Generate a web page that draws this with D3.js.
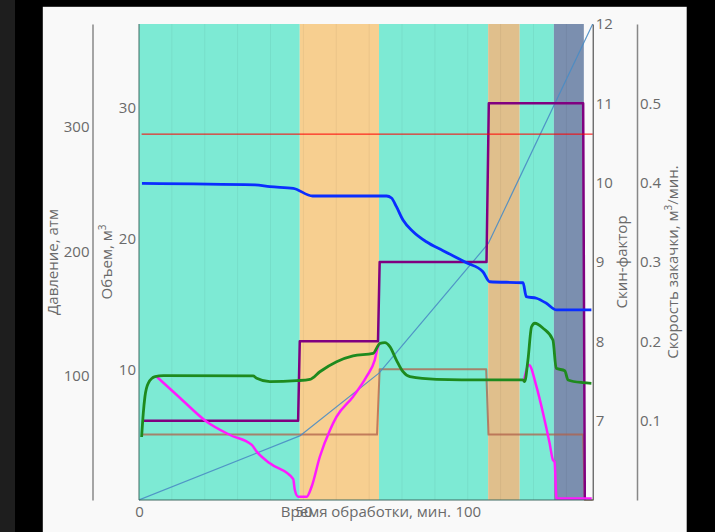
<!DOCTYPE html>
<html>
<head>
<meta charset="utf-8">
<script src="https://cdn.jsdelivr.net/npm/d3@7"></script>
<style>
  html, body { margin: 0; padding: 0; background: #000; }
  svg { display: block; }
  .tick text, .lbl { font-family: "Open Sans", sans-serif; font-size: 15px; fill: #6a6a6a; }
</style>
</head>
<body>
<div id="chart"></div>
<script>
// stages (minutes)
const stageStart = [0, 48.9, 73, 106.2, 115.8, 126.2]
const stageEnd   = [48.9, 73, 106.2, 115.8, 126.2, 135.3]
const stageKind  = ["acid", "divert", "acid", "divert2", "acid", "flush"]

// pressure, atm
const pressT = [0.9, 35.3, 39.8, 46.9, 52.8, 75.3, 76.8, 78.3, 80.3, 83.4, 87.4, 92.5, 99.6, 104.6, 106.7, 116.8, 117.8, 120.9, 123.9, 127.0, 137.6]
const pressV = [254.8, 253.5, 252.1, 250.8, 244.6, 244.6, 243.0, 236.0, 225.3, 215.9, 207.8, 200.6, 190.9, 183.7, 175.6, 174.8, 163.6, 162.3, 158.3, 152.9, 152.9]

// second pressure curve, atm
const press2T = [0.8, 1.3, 1.8, 2.8, 4.9, 7.4, 34.7, 35.8, 39.8, 47.9, 52.0, 55.0, 60.1, 65.1, 71.2, 73.3, 74.8, 76.3, 78.3, 80.3, 82.4, 90.5, 105.7, 116.8, 117.3, 118.3, 119.4, 120.4, 122.9, 125.9, 126.9, 129.5, 130.5, 135.0, 137.6]
const press2V = [50.7, 69.8, 83.1, 93.9, 99.2, 100.0, 99.8, 97.9, 95.2, 96.0, 97.1, 103.2, 111.3, 115.9, 118.0, 126.1, 126.6, 123.4, 112.6, 103.2, 99.2, 97.1, 96.6, 96.6, 95.2, 112.6, 139.4, 142.2, 138.2, 128.7, 106.0, 104.0, 96.6, 94.4, 93.9]

// third pressure curve, atm (null = gap)
const press3T = [5.4, 12.5, 20.6, 27.7, 34.3, 35.8, 39.8, 46.9, 47.4, 48.4, 51.0, 52.5, 55.0, 58.1, 60.1, 65.1, 69.2, 71.7, 72.7, 73.3, 95, 117.0, 118.6, 120.9, 122.9, 124.9, 125.9, 126.4, 127.0, 137.7]
const press3V = [99.2, 82.1, 63.0, 52.3, 44.3, 38.9, 29.5, 16.9, 8.0, 2.7, 2.7, 10.7, 34.8, 56.3, 67.0, 83.1, 99.2, 112.6, 123.4, 126.1, null, 95.2, 108.6, 91.2, 69.8, 45.6, 32.2, 30.8, 1.2, 1.2]

const pressLimit = 294.4

// volume, m3
const volT = [0, 48.9, 73, 106.2, 138]
const volV = [0, 4.9, 9.7, 19.6, 36.4]
const planT = [1.1, 72.4, 73.2, 105.6, 106.3, 135.1, 135.6, 138]
const planV = [5, 5, 10, 10, 5, 5, 0, 0]

// injection rate, m3/min
const rateT = [1.5, 48.4, 48.9, 72.7, 73.2, 105.7, 106.4, 135.1, 135.6]
const rateV = [0.1, 0.1, 0.2, 0.2, 0.3, 0.3, 0.5, 0.5, 0]

const xTicks = [0, 50, 100]
const pressTicks = [100, 200, 300]
const volTicks = [10, 20, 30]
const skinTicks = [7, 8, 9, 10, 11, 12]
const rateTicks = [0.1, 0.2, 0.3, 0.4, 0.5]

const stageColor = { acid: "#7dead4", divert: "#f7cf90", divert2: "#e0bf8c", flush: "#7b8faf" }

const W = 715, H = 532
const pL = 139, pR = 592.7, pT = 24, pB = 500

const svg = d3.select("#chart").append("svg")
    .attr("width", W).attr("height", H)

svg.append("rect").attr("width", 15).attr("height", H).attr("fill", "#1e1e1e")
svg.append("rect").attr("x", 42.8).attr("y", 6.8).attr("width", 686.7 - 42.8).attr("height", H).attr("fill", "#f9f9f9")

const x = d3.scaleLinear([0, 138], [pL, pR])
const yP = d3.scaleLinear([0, 383], [pB, pT])
const yV = d3.scaleLinear([0, 36.4], [pB, pT])
const yS = d3.scaleLinear([6, 12], [pB, pT])
const yR = d3.scaleLinear([0, 0.6], [pB, pT])

svg.append("clipPath").attr("id", "plot")
  .append("rect").attr("x", pL).attr("y", pT).attr("width", pR - pL + 1).attr("height", pB - pT + 2)

const g = svg.append("g").attr("clip-path", "url(#plot)")

g.selectAll("rect.stage")
  .data(d3.range(stageStart.length))
  .join("rect")
    .attr("class", "stage")
    .attr("x", i => x(stageStart[i]))
    .attr("width", i => x(stageEnd[i]) - x(stageStart[i]))
    .attr("y", pT).attr("height", pB - pT)
    .attr("fill", i => stageColor[stageKind[i]])

// faint vertical grid
g.selectAll("line.grid")
  .data(d3.range(10, 138, 10))
  .join("line")
    .attr("x1", d => x(d)).attr("x2", d => x(d))
    .attr("y1", pT).attr("y2", pB)
    .attr("stroke", "#000").attr("stroke-opacity", 0.05)

function drawLine(T, V, yScale, color, w, opacity = 1, curve = d3.curveLinear) {
  const line = d3.line()
    .defined(i => V[i] !== null)
    .x(i => x(T[i]))
    .y(i => yScale(V[i]))
    .curve(curve)
  g.append("path")
    .attr("d", line(d3.range(T.length)))
    .attr("fill", "none")
    .attr("stroke", color)
    .attr("stroke-width", w)
    .attr("stroke-opacity", opacity)
    .attr("stroke-linejoin", "round")
}

drawLine(planT, planV, yV, "#b0604a", 2, 0.75)
drawLine(volT, volV, yV, "#4a8cc4", 1.2, 0.9)
drawLine(rateT, rateV, yR, "#800080", 2.5)
drawLine(press3T, press3V, yP, "#ff1aff", 2.5, 1, d3.curveMonotoneX)
drawLine(press2T, press2V, yP, "#1e8a1e", 2.8, 1, d3.curveMonotoneX)
drawLine(pressT, pressV, yP, "#0a2eff", 2.8, 1, d3.curveMonotoneX)
drawLine([0.8, 138], [pressLimit, pressLimit], yP, "#ff0000", 1)

// plot frame (left + bottom)
svg.append("path")
  .attr("d", `M${pL},${pT}V${pB}H${pR}`)
  .attr("fill", "none").attr("stroke", "#3f6a62").attr("stroke-width", 1)

function styleAxis(sel, domainColor, domainWidth) {
  sel.selectAll(".tick line").remove()
  if (domainColor) sel.select(".domain").attr("stroke", domainColor).attr("stroke-width", domainWidth)
  else sel.select(".domain").remove()
  sel.selectAll(".tick text").attr("fill", "#6a6a6a")
  sel.attr("font-family", null).attr("font-size", null)
}

svg.append("g").attr("transform", `translate(0,${pB})`)
  .call(d3.axisBottom(x).tickValues(xTicks).tickSize(0).tickPadding(6).tickFormat(d3.format("d")))
  .call(s => styleAxis(s, null))

svg.append("g").attr("transform", "translate(92.5,0)")
  .call(d3.axisLeft(yP).tickValues(pressTicks).tickSize(0).tickSizeOuter(0).tickPadding(3))
  .call(s => styleAxis(s, "#888", 1.5))

svg.append("g").attr("transform", `translate(${pL},0)`)
  .call(d3.axisLeft(yV).tickValues(volTicks).tickSize(0).tickPadding(3))
  .call(s => styleAxis(s, null))

svg.append("g").attr("transform", `translate(${pR},0)`)
  .call(d3.axisRight(yS).tickValues(skinTicks).tickSize(0).tickSizeOuter(0).tickPadding(3).tickFormat(d3.format("d")))
  .call(s => styleAxis(s, "#333", 1))

svg.append("g").attr("transform", "translate(637,0)")
  .call(d3.axisRight(yR).tickValues(rateTicks).tickSize(0).tickSizeOuter(0).tickPadding(3).tickFormat(d3.format(".1f")))
  .call(s => styleAxis(s, "#888", 1.5))

// axis titles
svg.append("text").attr("class", "lbl")
  .attr("x", (pL + pR) / 2).attr("y", 517)
  .attr("text-anchor", "middle")
  .text("Время обработки, мин.")

// parts: [text, superscript?]
function vTitle(cx, parts) {
  const t = svg.append("text").attr("class", "lbl")
    .attr("transform", `translate(${cx},262) rotate(-90)`)
    .attr("text-anchor", "middle")
  let raised = false
  parts.forEach(p => {
    const s = t.append("tspan").text(p[0])
    if (p[1]) { s.attr("font-size", 10).attr("dy", -6); raised = true }
    else if (raised) { s.attr("dy", 6); raised = false }
  })
}
vTitle(57.5, [["Давление, атм"]])
vTitle(112, [["Объем, м"], ["3", true]])
vTitle(627, [["Скин-фактор"]])
vTitle(678, [["Скорость закачки, м"], ["3", true], ["/мин."]])
</script>
</body>
</html>
